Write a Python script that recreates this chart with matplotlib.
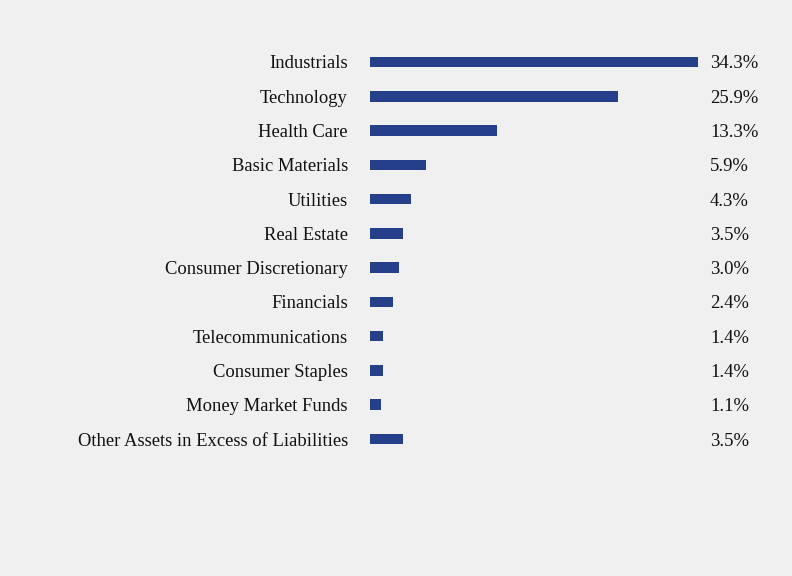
import matplotlib
matplotlib.use("Agg")
import matplotlib.pyplot as plt

categories = ["Industrials", "Technology", "Health Care", "Basic Materials", "Utilities",
              "Real Estate", "Consumer Discretionary", "Financials", "Telecommunications",
              "Consumer Staples", "Money Market Funds", "Other Assets in Excess of Liabilities"]
values = [34.3, 25.9, 13.3, 5.9, 4.3, 3.5, 3.0, 2.4, 1.4, 1.4, 1.1, 3.5]
value_labels = ["34.3%", "25.9%", "13.3%", "5.9%", "4.3%", "3.5%", "3.0%", "2.4%",
                "1.4%", "1.4%", "1.1%", "3.5%"]

bg = "#f0f0f0"
bar_color = "#263f8a"
plt.rcParams['font.family'] = ['Liberation Serif', 'DejaVu Serif']

fig = plt.figure(figsize=(7.92, 5.76), dpi=100, facecolor=bg)
W, H = 792, 576
left, right = 370, 698
top, bottom = 62 - 17.14, 439 + 17.14
ax = fig.add_axes([left / W, 1 - bottom / H, (right - left) / W, (bottom - top) / H])
ax.set_facecolor(bg)
ypos = list(range(len(categories)))
ax.barh(ypos, values, height=0.31, color=bar_color)
ax.set_xlim(0, 34.3)
ax.set_ylim(len(categories) - 0.5, -0.5)
for s in ax.spines.values():
    s.set_visible(False)
ax.set_xticks([])
ax.set_yticks(ypos)
ax.set_yticklabels(categories, fontsize=13.4, color="#111111")
ax.tick_params(axis='y', length=0, pad=22 * 0.72)
xlab = (710 - left) / (right - left)
for y, lab in zip(ypos, value_labels):
    ax.text(xlab, y, lab, transform=ax.get_yaxis_transform(), ha='left', va='center_baseline',
            fontsize=13.4, color="#111111")

fig.savefig("out.png", dpi=100, facecolor=bg)
